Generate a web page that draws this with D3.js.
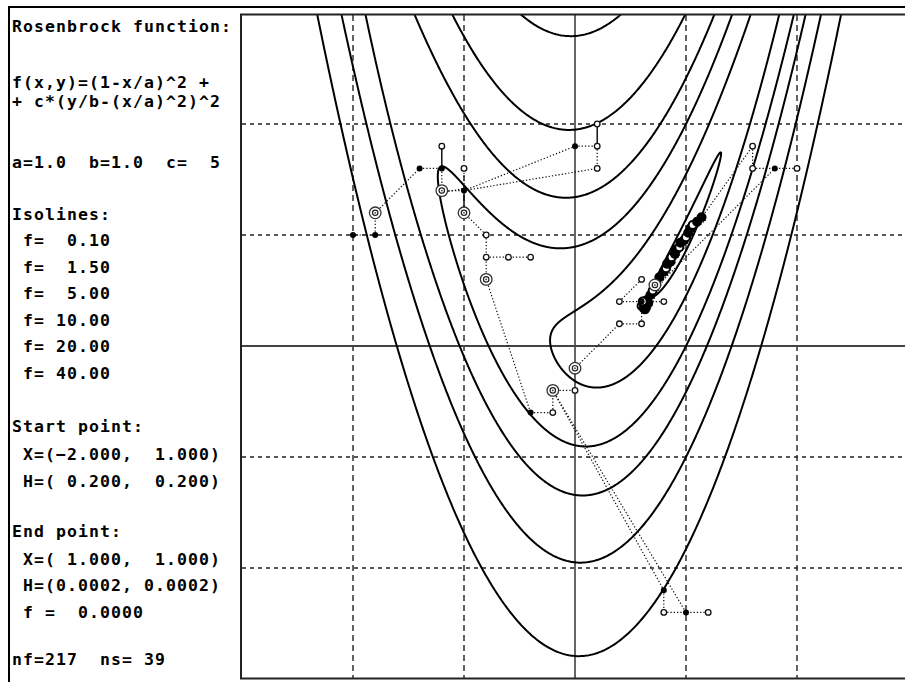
<!DOCTYPE html>
<html>
<head>
<meta charset="utf-8">
<script src="https://cdn.jsdelivr.net/npm/d3@7"></script>
<style>
  body { margin: 0; background: #fff; }
  text { font-family: "DejaVu Sans Mono", monospace; font-size: 16.5px; font-weight: bold;
         letter-spacing: 1.07px; white-space: pre; fill: #000; }
</style>
</head>
<body>
<svg id="chart" width="905" height="682"></svg>
<script>
// Rosenbrock parameters
var parA = 1.0, parB = 1.0, parC = 5;
var isoLevels = [0.10, 1.50, 5.00, 10.00, 20.00, 40.00];
var gridTicks = [-2, -1, 1, 2];
var axisTicks = [0];
var startPoint = [-2.0, 1.0], startStep = [0.2, 0.2];
var endPoint = [1.0, 1.0], endStep = [0.0002, 0.0002], endValue = 0.0;
var nf = 217, ns = 39;

// search path (x, y in function coords)
var dottedSegs = [
  [[-2, 1], [-1.8, 1]], [[-1.8, 1], [-1.8, 1.2]], [[-1.8, 1.2], [-1.4, 1.6]],
  [[-1.4, 1.6], [-1.2, 1.6]], [[-1.2, 1.6], [-1.2, 1.4]], [[-1.2, 1.4], [-1.0, 1.4]],
  [[-1.2, 1.38], [-1.0, 1.42]], [[-1.0, 1.4], [-1.0, 1.6]],
  [[-1.0, 1.4], [0, 1.8]], [[-1.0, 1.4], [0.2, 1.6]], [[0, 1.8], [0.2, 1.8]],
  [[0.2, 1.8], [0.2, 1.6]], [[-1.0, 1.2], [-0.8, 1.0]], [[-0.8, 1.0], [-0.8, 0.6]],
  [[-0.8, 0.8], [-0.4, 0.8]], [[-0.8, 0.6], [-0.4, -0.6]], [[-0.4, -0.6], [-0.2, -0.6]],
  [[-0.2, -0.6], [-0.2, -0.4]], [[-0.2, -0.4], [0, -0.4]], [[-0.2, -0.4], [0.8, -2.2]],
  [[-0.2, -0.4], [1.0, -2.4]], [[0.8, -2.2], [0.8, -2.4]], [[0.8, -2.4], [1.2, -2.4]],
  [[0, -0.2], [0.4, 0.2]], [[0.4, 0.2], [0.6, 0.2]], [[0.6, 0.2], [0.6, 0.4]],
  [[0.4, 0.4], [0.8, 0.4]], [[0.4, 0.4], [0.6, 0.6]], [[0.6, 0.4], [1.6, 1.8]],
  [[0.6, 0.4], [1.8, 1.6]], [[1.6, 1.8], [1.6, 1.6]], [[1.6, 1.6], [2.0, 1.6]]
];
var solidSegs = [
  [[-1.2, 1.6], [-1.2, 1.8]], [[0.2, 1.8], [0.2, 2.0]], [[-1.0, 1.4], [-1.0, 1.2]]
];
var trialPts = [
  [-1.2, 1.8], [-1.0, 1.6], [0.2, 1.8], [0.2, 2.0], [0.2, 1.6],
  [-0.8, 1.0], [-0.8, 0.8], [-0.6, 0.8], [-0.4, 0.8], [-0.2, -0.6], [0, -0.4],
  [0.8, -2.4], [1.2, -2.4], [0.4, 0.2], [0.6, 0.2], [0.4, 0.4], [0.8, 0.4],
  [0.6, 0.6], [1.6, 1.8], [1.6, 1.6], [2.0, 1.6]
];
var acceptedPts = [
  [-2, 1], [-1.8, 1.0], [-1.4, 1.6], [-1.2, 1.6], [-1.0, 1.4], [0, 1.8], [-0.4, -0.6],
  [0.8, -2.2], [1.0, -2.4], [1.8, 1.6], [0.6, 0.4]
];
var basePts = [
  [-1.8, 1.2], [-1.2, 1.4], [-1.0, 1.2], [-0.8, 0.6], [-0.2, -0.4], [0, -0.2], [0.72, 0.55]
];
// the crowded part near the minimum
var clusterPts = [
  [0.6, 0.36], [0.62, 0.38], [0.64, 0.36], [0.62, 0.34], [0.66, 0.39], [0.64, 0.41],
  [0.61, 0.4], [0.63, 0.33], [0.68, 0.46], [0.7, 0.5], [0.76, 0.62], [0.8, 0.67], [0.82, 0.7],
  [0.83, 0.74], [0.86, 0.76], [0.87, 0.8], [0.9, 0.83], [0.91, 0.87], [0.94, 0.89],
  [0.95, 0.93], [0.98, 0.95], [1.0, 0.98], [1.02, 1.02], [1.04, 1.06], [1.06, 1.09],
  [1.1, 1.12], [1.14, 1.16]
];

var infoLines = [
  "Rosenbrock function:",
  "f(x,y)=(1-x/a)^2 +",
  "+ c*(y/b-(x/a)^2)^2",
  "a=" + parA.toFixed(1) + "  b=" + parB.toFixed(1) + "  c=" + d3.format("3d")(parC),
  "Isolines:"
].concat(isoLevels.map(function (f) { return " f=" + d3.format("6.2f")(f); }))
 .concat([
  "Start point:",
  " X=(" + d3.format("6.3f")(startPoint[0]) + ", " + d3.format("6.3f")(startPoint[1]) + ")",
  " H=(" + d3.format("6.3f")(startStep[0]) + ", " + d3.format("6.3f")(startStep[1]) + ")",
  "End point:",
  " X=(" + d3.format("6.3f")(endPoint[0]) + ", " + d3.format("6.3f")(endPoint[1]) + ")",
  " H=(" + endStep[0].toFixed(4) + ", " + endStep[1].toFixed(4) + ")",
  " f =  " + endValue.toFixed(4),
  "nf=" + nf + "  ns=" + d3.format("3d")(ns)
]);
var infoBaselines = [32, 88, 107, 168, 220, 246, 273, 299, 326, 352, 379, 432, 460, 487, 537, 565, 591, 618, 665];

var svg = d3.select("#chart");
svg.append("rect").attr("width", 905).attr("height", 682).attr("fill", "#fff");

// outer frame
svg.append("rect").attr("x", 9).attr("y", 7).attr("width", 910).attr("height", 690)
  .attr("fill", "none").attr("stroke", "#000").attr("stroke-width", 2);

svg.append("g").selectAll("text").data(infoLines).join("text")
  .attr("x", 12).attr("y", function (d, i) { return infoBaselines[i]; })
  .text(function (d) { return d; });

var x = d3.scaleLinear().domain([-3, 3]).range([242, 908]);
var y = d3.scaleLinear().domain([-3, 3]).range([679, 13]);

svg.append("clipPath").attr("id", "plotclip").append("rect")
  .attr("x", 242).attr("y", 15).attr("width", 670).attr("height", 663);

var plot = svg.append("g").attr("clip-path", "url(#plotclip)");

// grid
plot.selectAll(".vg").data(gridTicks).join("line").attr("class", "vg")
  .attr("x1", function (d) { return x(d); }).attr("x2", function (d) { return x(d); })
  .attr("y1", 15).attr("y2", 679)
  .attr("stroke", "#222").attr("stroke-width", 1.4).attr("stroke-dasharray", "6,4");
plot.selectAll(".hg").data(gridTicks).join("line").attr("class", "hg")
  .attr("y1", function (d) { return y(d); }).attr("y2", function (d) { return y(d); })
  .attr("x1", 242).attr("x2", 912)
  .attr("stroke", "#222").attr("stroke-width", 1.4).attr("stroke-dasharray", "4,4");
plot.selectAll(".va").data(axisTicks).join("line").attr("class", "va")
  .attr("x1", function (d) { return x(d); }).attr("x2", function (d) { return x(d); })
  .attr("y1", 15).attr("y2", 679).attr("stroke", "#333").attr("stroke-width", 1.5);
plot.selectAll(".ha").data(axisTicks).join("line").attr("class", "ha")
  .attr("y1", function (d) { return y(d); }).attr("y2", function (d) { return y(d); })
  .attr("x1", 242).attr("x2", 912).attr("stroke", "#444").attr("stroke-width", 2);

// isolines: u = x/a = 1 + sqrt(f) cos t,  y/b = u^2 + sqrt(f/c) sin t
function isoline(f) {
  var pts = [];
  for (var k = 0; k < 3000; k++) {
    var t = 2 * Math.PI * k / 3000;
    var u = 1 + Math.sqrt(f) * Math.cos(t);
    pts.push([parA * u, parB * (u * u + Math.sqrt(f / parC) * Math.sin(t))]);
  }
  return pts;
}
var line = d3.line().x(function (d) { return x(d[0]); }).y(function (d) { return y(d[1]); })
  .curve(d3.curveLinearClosed);
plot.selectAll(".iso").data(isoLevels).join("path").attr("class", "iso")
  .attr("d", function (f) { return line(isoline(f)); })
  .attr("fill", "none").attr("stroke", "#000").attr("stroke-width", 2);

// search path
var seg = plot.append("g");
seg.selectAll(".ds").data(dottedSegs).join("line").attr("class", "ds")
  .attr("x1", function (d) { return x(d[0][0]); }).attr("y1", function (d) { return y(d[0][1]); })
  .attr("x2", function (d) { return x(d[1][0]); }).attr("y2", function (d) { return y(d[1][1]); })
  .attr("stroke", "#111").attr("stroke-width", 1.2).attr("stroke-dasharray", "1.3,2");
seg.selectAll(".ss").data(solidSegs).join("line").attr("class", "ss")
  .attr("x1", function (d) { return x(d[0][0]); }).attr("y1", function (d) { return y(d[0][1]); })
  .attr("x2", function (d) { return x(d[1][0]); }).attr("y2", function (d) { return y(d[1][1]); })
  .attr("stroke", "#000").attr("stroke-width", 1.4);

var pathLine = d3.line().x(function (d) { return x(d[0]); }).y(function (d) { return y(d[1]); });
seg.append("path").attr("d", pathLine(clusterPts)).attr("fill", "none")
  .attr("stroke", "#111").attr("stroke-width", 1.2).attr("stroke-dasharray", "1.3,2");
seg.append("path").attr("d", pathLine(clusterPts.map(function (p) { return [p[0] + 0.04, p[1] - 0.02]; })))
  .attr("fill", "none").attr("stroke", "#111").attr("stroke-width", 1.1).attr("stroke-dasharray", "1,2");

seg.selectAll(".cp").data(clusterPts).join("circle").attr("class", "cp")
  .attr("cx", function (d) { return x(d[0]); }).attr("cy", function (d) { return y(d[1]); })
  .attr("r", 4).attr("fill", function (d, i) { return i % 3 ? "#000" : "#fff"; })
  .attr("stroke", "#000").attr("stroke-width", 2);

seg.selectAll(".tp").data(trialPts).join("circle").attr("class", "tp")
  .attr("cx", function (d) { return x(d[0]); }).attr("cy", function (d) { return y(d[1]); })
  .attr("r", 2.8).attr("fill", "#fff").attr("stroke", "#111").attr("stroke-width", 1.3);
seg.selectAll(".ap").data(acceptedPts).join("circle").attr("class", "ap")
  .attr("cx", function (d) { return x(d[0]); }).attr("cy", function (d) { return y(d[1]); })
  .attr("r", 3).attr("fill", "#000");

var base = seg.selectAll(".bp").data(basePts).join("g").attr("class", "bp")
  .attr("transform", function (d) { return "translate(" + x(d[0]) + "," + y(d[1]) + ")"; });
base.append("circle").attr("r", 5.8).attr("fill", "#fff").attr("stroke", "#333").attr("stroke-width", 1.3);
base.append("circle").attr("r", 2.7).attr("fill", "none").attr("stroke", "#222").attr("stroke-width", 1.2);
base.append("circle").attr("r", 0.9).attr("fill", "#444");

// plot box
svg.append("rect").attr("x", 241).attr("y", 14.5).attr("width", 680).attr("height", 664)
  .attr("fill", "none").attr("stroke", "#222").attr("stroke-width", 2);
</script>
</body>
</html>
